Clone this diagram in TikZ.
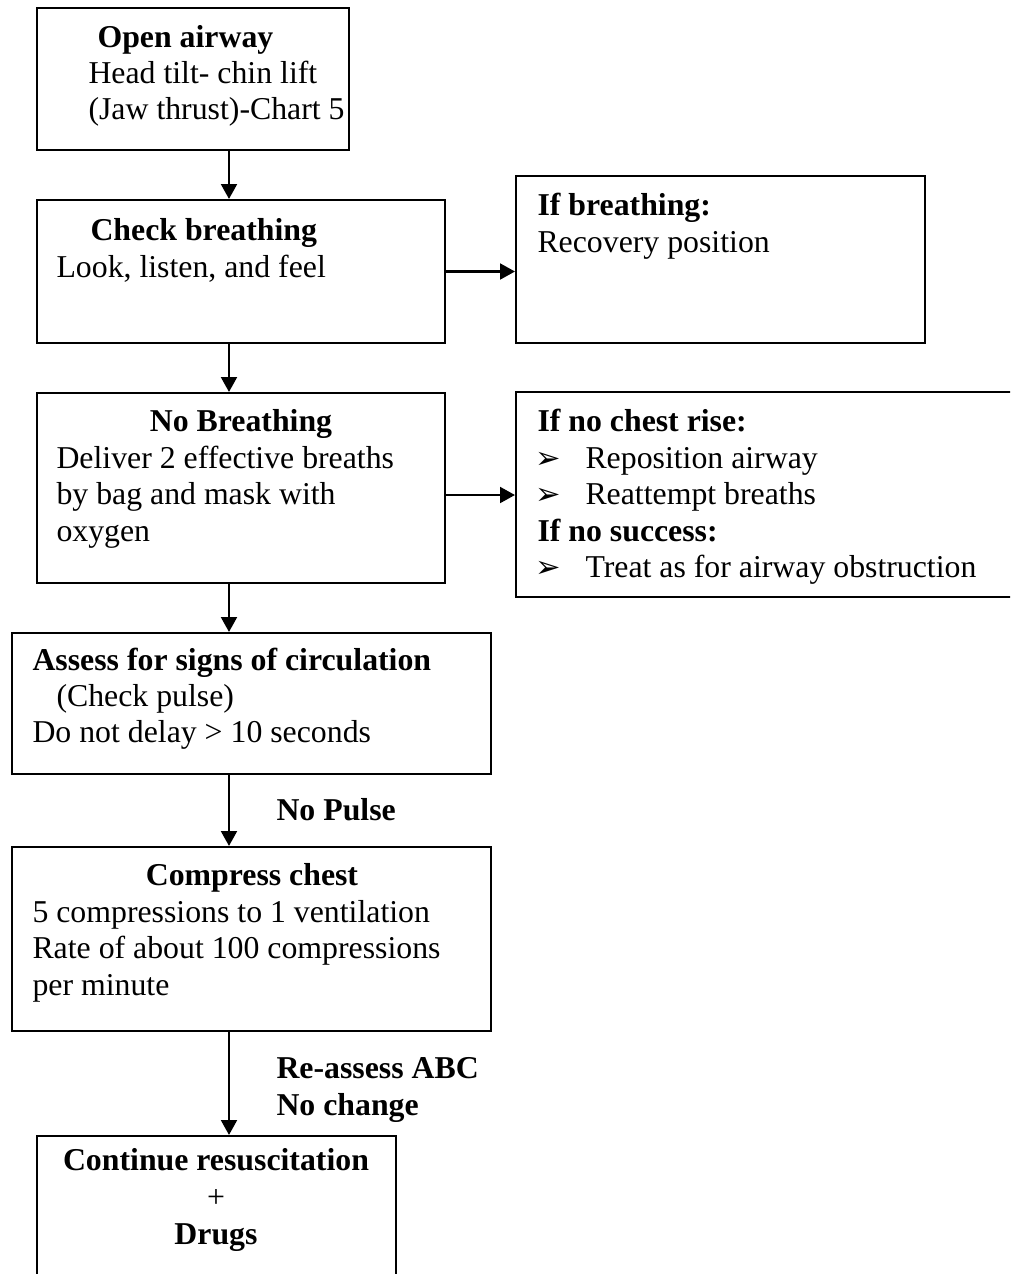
\documentclass[tikz,border=0pt]{standalone}
\usepackage{fontspec}
\setmainfont{Liberation Serif}
\newfontfamily\dingfont{DejaVu Sans}
\usetikzlibrary{arrows.meta}
\usetikzlibrary{fit}

\begin{document}
\begin{tikzpicture}
	[x=0.3774pt, y=-0.3774pt,
	 box/.style={draw=black, line width=0.8pt, rectangle, inner sep=0pt},
	 txt/.style={inner sep=0pt, anchor=base west, font=\fontsize{12}{14}\selectfont},
	 head/.style={txt, font=\fontsize{12}{14}\selectfont\bfseries},
	 mid/.style={anchor=base},
	 bul/.style={inner sep=0pt, anchor=base west, font=\fontsize{11.5}{13}\dingfont},
	 arr/.style={line width=0.8pt, -{Triangle[length=5.6pt, width=6pt]}}]
	\useasboundingbox (0,0) rectangle (1010,1274);
	\clip (0,0) rectangle (1010,1274);

	% boxes
	\node[box, fit={(37,8) (349,150)}] (open) {};
	\node[box, fit={(37,200) (445,343)}] (check) {};
	\node[box, fit={(516,176) (925,343)}] (ifbreath) {};
	\node[box, fit={(37,393) (445,583)}] (nobreath) {};
	\node[box, fit={(516,392) (1030,597)}] (nochest) {};
	\node[box, fit={(12,633) (491,774)}] (assess) {};
	\node[box, fit={(12,847) (491,1031)}] (compress) {};
	\node[box, fit={(37,1136) (396,1300)}] (continue) {};

	% texts
	\node[head] (open-t) at (97,47) {Open airway};
	\node[txt] (open-a) at (88,83) {Head tilt- chin lift};
	\node[txt] (open-b) at (88,119) {(Jaw thrust)-Chart 5};

	\node[head] (check-t) at (90,240) {Check breathing};
	\node[txt] (check-a) at (56,277) {Look, listen, and feel};

	\node[head] (ifbreath-t) at (537,215) {If breathing:};
	\node[txt] (ifbreath-a) at (537,252) {Recovery position};

	\node[head, mid] (nobreath-t) at (241,431) {No Breathing};
	\node[txt] (nobreath-a) at (56,468) {Deliver 2 effective breaths};
	\node[txt] (nobreath-b) at (56,504) {by bag and mask with};
	\node[txt] (nobreath-c) at (56,541) {oxygen};

	\node[head] (nochest-t) at (537,431) {If no chest rise:};
	\node[bul] (nochest-b1) at (535,468) {➢};
	\node[txt] (nochest-a) at (585,468) {Reposition airway};
	\node[bul] (nochest-b2) at (535,504) {➢};
	\node[txt] (nochest-b) at (585,504) {Reattempt breaths};
	\node[head] (nochest-s) at (537,541) {If no success:};
	\node[bul] (nochest-b3) at (535,577) {➢};
	\node[txt] (nochest-c) at (585,577) {Treat as for airway obstruction};

	\node[head] (assess-t) at (32,670) {Assess for signs of circulation};
	\node[txt] (assess-a) at (56,706) {(Check pulse)};
	\node[txt] (assess-b) at (32,742) {Do not delay > 10 seconds};

	\node[head, mid] (compress-t) at (252,885) {Compress chest};
	\node[txt] (compress-a) at (32,922) {5 compressions to 1 ventilation};
	\node[txt] (compress-b) at (32,958) {Rate of about 100 compressions};
	\node[txt] (compress-c) at (32,995) {per minute};

	\node[head, mid] (continue-t) at (216,1170) {Continue resuscitation};
	\node[txt, mid] (continue-p) at (216,1207) {+};
	\node[head, mid] (continue-d) at (216,1244) {Drugs};

	\node[head] (nopulse) at (276,820) {No Pulse};
	\node[head] (reassess) at (276,1078) {Re-assess ABC};
	\node[head] (nochange) at (276,1115) {No change};

	% connectors
	\coordinate (spine) at (229,0);
	\coordinate (nbmid) at (0,495);
	\draw[arr] (open.south -| spine) -- (check.north -| spine);
	\draw[arr] (check.south -| spine) -- (nobreath.north -| spine);
	\draw[arr] (nobreath.south -| spine) -- (assess.north -| spine);
	\draw[arr] (assess.south -| spine) -- (compress.north -| spine);
	\draw[arr] (compress.south -| spine) -- (continue.north -| spine);
	\draw[arr] (check.east) -- (check.east -| ifbreath.west);
	\draw[arr] (nobreath.east |- nbmid) -- (nochest.west |- nbmid);
\end{tikzpicture}
\end{document}
